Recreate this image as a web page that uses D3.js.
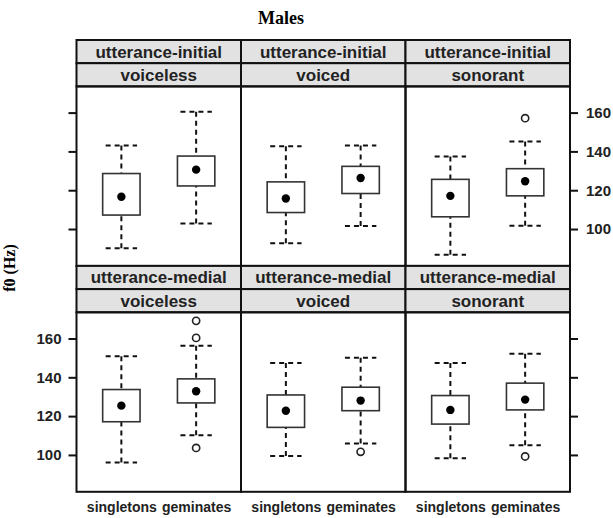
<!DOCTYPE html>
<html>
<head>
<meta charset="utf-8">
<script src="https://cdn.jsdelivr.net/npm/d3@7"></script>
<style>
  body { margin: 0; background: #fff; }
  text { font-family: "Liberation Sans", Arial, sans-serif; }
</style>
</head>
<body>
<svg id="mainsvg" width="613" height="518"></svg>
<script>
const rowLabels = ["utterance-initial", "utterance-medial"];
const colLabels = ["voiceless", "voiced", "sonorant"];
const groupLabels = ["singletons", "geminates"];
const yTicks = [100, 120, 140, 160];

// [lower whisker, lower hinge, median, upper hinge, upper whisker], panel order: row by row
const singletonStats = [
  [90.1, 107.2, 116.6, 128.6, 143.1],
  [92.7, 108.5, 115.7, 124.3, 142.6],
  [86.7, 106.3, 117.1, 125.6, 137.4],
  [96.1, 117.1, 125.4, 133.7, 150.8],
  [99.5, 114.2, 122.8, 130.9, 147.4],
  [98.3, 115.9, 123.2, 130.6, 147.4]
];
const geminateStats = [
  [102.9, 122.2, 130.6, 137.6, 160.5],
  [101.5, 118.3, 126.3, 132.3, 143.1],
  [101.7, 117.1, 124.6, 131.1, 145.1],
  [110.2, 126.8, 132.8, 139.2, 156.2],
  [105.9, 122.8, 128.0, 134.9, 150.1],
  [105.0, 123.2, 128.5, 137.0, 152.2]
];
const singletonOutliers = [[], [], [], [], [], []];
const geminateOutliers = [[], [], [157.1], [169.1, 160.3, 103.6], [101.6], [99.2]];

const svg = d3.select('#mainsvg');
const g = svg.append('g');

const marginL = 76.5, marginR = 570, marginT = 40;
const stripH = 23.2, panelH = 179.5;
const colW = (marginR - marginL) / 3;

const x = d3.scaleLinear().domain([0.4, 2.6]).range([0, colW]);
const y = d3.scaleLinear().domain([81, 173.5]).range([panelH, 0]);

const rowTop = r => marginT + r * (2 * stripH + panelH);

// title and y label
svg.append('text').attr('x', 281).attr('y', 24).attr('text-anchor', 'middle')
  .style('font-family', '"Liberation Serif", serif').style('font-weight', 'bold').style('font-size', '18px')
  .text('Males');
svg.append('text').attr('transform', 'translate(15,268) rotate(-90)').attr('text-anchor', 'middle')
  .style('font-family', '"Liberation Serif", serif').style('font-weight', 'bold').style('font-size', '16px')
  .text('f0 (Hz)');

rowLabels.forEach((rl, r) => {
  colLabels.forEach((cl, c) => {
    const i = r * 3 + c;
    const px = marginL + c * colW;
    const py = rowTop(r);
    const pg = g.append('g').attr('transform', `translate(${px},${py})`);

    // strips
    [rl, cl].forEach((lab, k) => {
      pg.append('rect').attr('x', 0).attr('y', k * stripH).attr('width', colW).attr('height', stripH)
        .attr('fill', '#e2e2e2').attr('stroke', '#111').attr('stroke-width', 2);
      pg.append('text').attr('x', colW / 2).attr('y', k * stripH + stripH / 2 + 6)
        .attr('text-anchor', 'middle').style('font-size', '17px').style('font-weight', 'bold')
        .attr('fill', '#222').text(lab);
    });

    const panel = pg.append('g').attr('transform', `translate(0,${2 * stripH})`);

    const stats = [singletonStats[i], geminateStats[i]];
    const outs = [singletonOutliers[i], geminateOutliers[i]];

    stats.forEach((s, j) => {
      const cx = x(j + 1);
      const bx = panel.append('g');
      const dash = '5,4';
      // whiskers
      bx.append('line').attr('x1', cx).attr('x2', cx).attr('y1', y(s[4])).attr('y2', y(s[3]))
        .attr('stroke', '#111').attr('stroke-width', 2).attr('stroke-dasharray', dash);
      bx.append('line').attr('x1', cx).attr('x2', cx).attr('y1', y(s[0])).attr('y2', y(s[1]))
        .attr('stroke', '#111').attr('stroke-width', 2).attr('stroke-dasharray', dash);
      [s[0], s[4]].forEach(v => {
        bx.append('line').attr('x1', x(j + 1 - 0.21)).attr('x2', x(j + 1 + 0.21))
          .attr('y1', y(v)).attr('y2', y(v))
          .attr('stroke', '#111').attr('stroke-width', 2).attr('stroke-dasharray', dash);
      });
      // box
      bx.append('rect').attr('x', x(j + 1 - 0.25)).attr('width', x(1.25) - x(0.75))
        .attr('y', y(s[3])).attr('height', y(s[1]) - y(s[3]))
        .attr('fill', '#fff').attr('stroke', '#333').attr('stroke-width', 1.6);
      bx.append('circle').attr('cx', cx).attr('cy', y(s[2])).attr('r', 4.2).attr('fill', '#000');
      bx.selectAll('.out').data(outs[j]).join('circle').attr('class', 'out')
        .attr('cx', cx).attr('cy', d => y(d)).attr('r', 3.6)
        .attr('fill', 'none').attr('stroke', '#222').attr('stroke-width', 1.6);
    });

    panel.append('rect').attr('width', colW).attr('height', panelH)
      .attr('fill', 'none').attr('stroke', '#111').attr('stroke-width', 2);

    // y axes on outer columns
    if (c === 0) {
      const ax = d3.axisLeft(y).tickValues(yTicks).tickSize(8).tickPadding(7);
      if (r === 0) ax.tickFormat('');
      const a = panel.append('g').call(ax);
      a.select('.domain').remove();
      a.selectAll('line').attr('stroke', '#111').attr('stroke-width', 2);
      a.selectAll('text').style('font-size', '15px').style('font-weight', 'bold').attr('fill', '#222');
    }
    if (c === 2) {
      const ax = d3.axisRight(y).tickValues(yTicks).tickSize(8).tickPadding(8);
      if (r === 1) ax.tickFormat('');
      const a = panel.append('g').attr('transform', `translate(${colW},0)`).call(ax);
      a.select('.domain').remove();
      a.selectAll('line').attr('stroke', '#111').attr('stroke-width', 2);
      a.selectAll('text').style('font-size', '15px').style('font-weight', 'bold').attr('fill', '#222');
    }

    // x labels under bottom row
    if (r === 1) {
      const ax = d3.axisBottom(x).tickValues([1, 2]).tickSize(0).tickPadding(10)
        .tickFormat((d, k) => groupLabels[k]);
      const a = panel.append('g').attr('transform', `translate(0,${panelH})`).call(ax);
      a.select('.domain').remove();
      a.selectAll('text').style('font-size', '14px').style('font-weight', 'bold').attr('fill', '#222');
    }
  });
});
</script>
</body>
</html>
